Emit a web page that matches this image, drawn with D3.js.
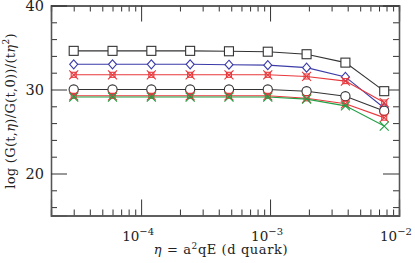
<!DOCTYPE html>
<style>
body { margin: 0; background: #fff; }
text { font-family: "DejaVu Serif", serif; fill: #222; }
.axis .domain { stroke: #555; stroke-width: 1.3; }
.axis line { stroke: #333; }
</style>
<body>
<svg width="415" height="263"></svg>
<script src="https://cdn.jsdelivr.net/npm/d3@7"></script>
<script>
// eta values (x)
var eta = [3e-5, 6e-5, 1.2e-4, 2.4e-4, 4.8e-4, 9.6e-4, 1.92e-3, 3.84e-3, 7.68e-3];

// series
var squares   = [34.6, 34.6, 34.6, 34.6, 34.55, 34.5, 34.2, 33.2, 29.8];
var diamonds  = [33.0, 33.0, 33.0, 33.0, 32.95, 32.9, 32.6, 31.5, 27.8];
var starsHigh = [31.75, 31.75, 31.75, 31.75, 31.75, 31.75, 31.55, 31.0, 28.45];
var circles   = [30.0, 30.0, 30.0, 30.0, 30.0, 30.0, 29.8, 29.2, 27.45];
var starsLow  = [29.25, 29.25, 29.25, 29.25, 29.25, 29.25, 28.95, 28.3, 26.65];
var crosses   = [29.1, 29.1, 29.1, 29.1, 29.1, 29.1, 28.85, 28.05, 25.65];

var yTicks = [20, 30, 40];
var xTicks = [1e-4, 1e-3, 1e-2];
var xTickExp = ["4", "3", "2"];

var series = [
  {vals: squares,   color: "#333", shape: "square"},
  {vals: diamonds,  color: "#3b3ba8", shape: "diamond"},
  {vals: starsHigh, color: "#e8383c", shape: "star"},
  {vals: circles,   color: "#333", shape: "circle"},
  {vals: starsLow,  color: "#e8383c", shape: "star"},
  {vals: crosses,   color: "#22a045", shape: "cross"}
];

var svg = d3.select("svg"),
    margin = {top: 5.5, right: 16, bottom: 47.5, left: 51},
    width = 415 - margin.left - margin.right,
    height = 263 - margin.top - margin.bottom,
    g = svg.append("g").attr("transform", "translate(" + margin.left + "," + margin.top + ")");

var x = d3.scaleLog().domain([2e-5, 1e-2]).range([0, width]);
var y = d3.scaleLinear().domain([15, 40]).range([height, 0]);

// minor ticks
var xMinor = [];
[1e-5, 1e-4, 1e-3].forEach(function(dec) {
  for (var k = 2; k < 10; k++) {
    var v = dec * k;
    if (v >= 2e-5 && v <= 1e-2) xMinor.push(v);
  }
});
var yMinor = d3.range(16, 40, 2).filter(function(v) { return v % 10 != 0; });

function axes(axisFn, scale, vals, size, transform) {
  g.append("g").attr("class", "axis").attr("transform", transform)
    .call(axisFn(scale).tickValues(vals).tickSize(size).tickFormat(""));
}
axes(d3.axisBottom, x, xMinor, -6, "translate(0," + height + ")");
axes(d3.axisBottom, x, xTicks, -16, "translate(0," + height + ")");
axes(d3.axisTop, x, xMinor, -6, "translate(0,0)");
axes(d3.axisTop, x, xTicks, -16, "translate(0,0)");
axes(d3.axisLeft, y, yMinor, -6, "translate(0,0)");
axes(d3.axisLeft, y, yTicks, -16, "translate(0,0)");
axes(d3.axisRight, y, yMinor, -6, "translate(" + width + ",0)");
axes(d3.axisRight, y, yTicks, -16, "translate(" + width + ",0)");

// y tick labels
g.selectAll(".ylab").data(yTicks).enter().append("text")
  .attr("x", -7).attr("y", function(d) { return y(d); })
  .attr("dy", "0.38em").attr("text-anchor", "end")
  .attr("font-size", 14.5).text(function(d) { return d; });

// x tick labels
var xl = g.selectAll(".xlab").data(xTicks).enter().append("text")
  .attr("x", function(d) { return x(d) - 3; }).attr("y", height + 25)
  .attr("text-anchor", "middle").attr("font-size", 13.5);
xl.append("tspan").text("10");
xl.append("tspan").attr("dy", -6).attr("font-size", 10).text(function(d, i) { return "\u2212" + xTickExp[i]; });

// axis titles
var xt = svg.append("text").attr("x", 221).attr("y", 254).attr("text-anchor", "middle")
  .attr("font-size", 13).attr("letter-spacing", 0.6);
xt.append("tspan").attr("font-style", "italic").text("\u03b7");
xt.append("tspan").text(" = a");
xt.append("tspan").attr("dy", -5).attr("font-size", 9).text("2");
xt.append("tspan").attr("dy", 5).text("qE (d quark)");

var yt = svg.append("text").attr("transform", "translate(15,111) rotate(-90)")
  .attr("text-anchor", "middle").attr("font-size", 13).attr("letter-spacing", 0.3);
yt.append("tspan").text("log (G(t,");
yt.append("tspan").attr("font-style", "italic").text("\u03b7");
yt.append("tspan").text(")/G(t,0))/(t");
yt.append("tspan").attr("font-style", "italic").text("\u03b7");
yt.append("tspan").attr("dy", -6).attr("font-size", 9).text("2");
yt.append("tspan").attr("dy", 6).text(")");

var line = d3.line().x(function(d, i) { return x(eta[i]); }).y(function(d) { return y(d); });

series.forEach(function(s) {
  g.append("path").datum(s.vals)
    .attr("fill", "none").attr("stroke", s.color).attr("stroke-width", 1.1)
    .attr("d", line);
  var m = g.append("g").selectAll("g").data(s.vals).enter().append("g")
    .attr("transform", function(d, i) { return "translate(" + x(eta[i]) + "," + y(d) + ")"; })
    .attr("fill", "#fff").attr("stroke", s.color).attr("stroke-width", 1.1);
  if (s.shape == "square") m.append("rect").attr("x", -4.5).attr("y", -4.5).attr("width", 9).attr("height", 9);
  if (s.shape == "circle") m.append("circle").attr("r", 4.6);
  if (s.shape == "diamond") m.append("path").attr("d", "M0,-4.5L4,0L0,4.5L-4,0Z");
  if (s.shape == "star") {
    m.append("rect").attr("x", -2.5).attr("y", -2.5).attr("width", 5).attr("height", 5).attr("fill", "none");
    m.append("path").attr("d", "M-4.5,-4.5L4.5,4.5M-4.5,4.5L4.5,-4.5");
  }
  if (s.shape == "cross") m.append("path").attr("d", "M-4.5,-4.5L4.5,4.5M-4.5,4.5L4.5,-4.5");
});
</script>
</body>
